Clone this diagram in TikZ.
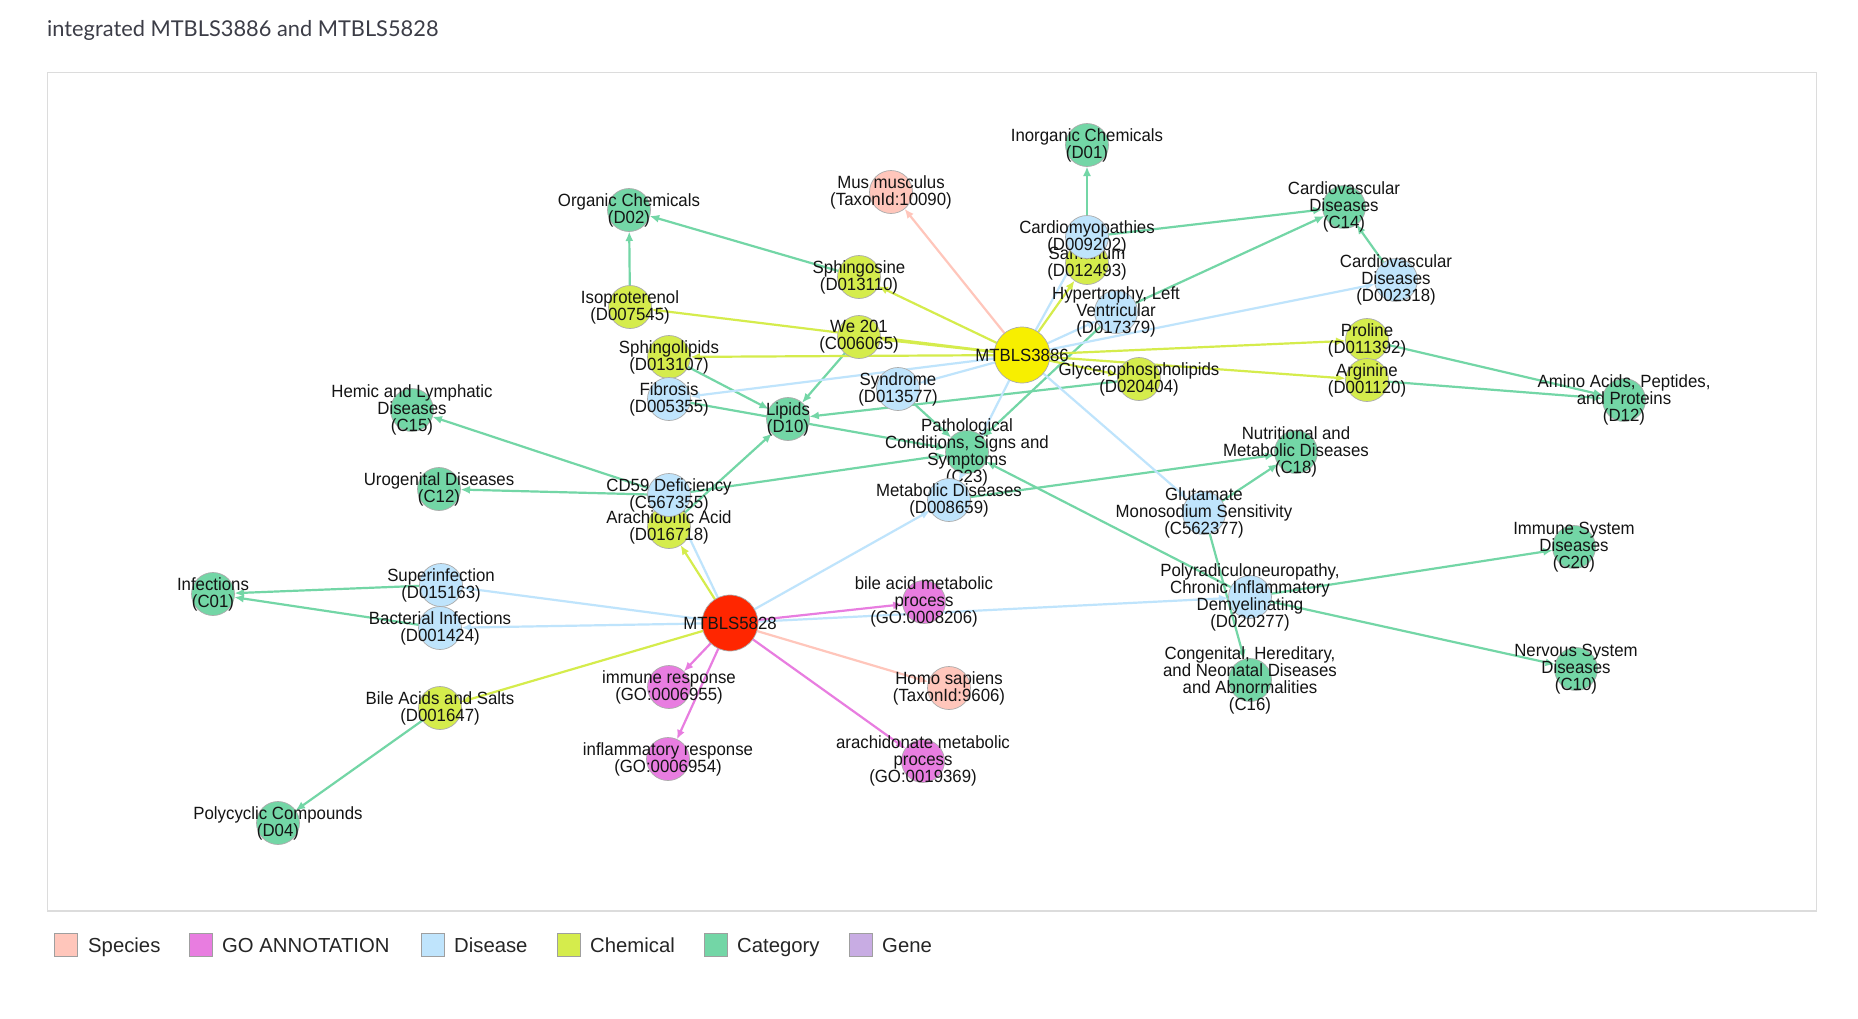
\documentclass[tikz,border=0pt]{standalone}
\usepackage{fontspec}
\setmainfont{Liberation Sans}
\newfontfamily\titlefont{Lato}
\newfontfamily\lblfont[FakeStretch=0.95]{Liberation Sans}
\usetikzlibrary{arrows.meta}
\definecolor{catc}{HTML}{73D6A6}
\definecolor{disc}{HTML}{BFE4FC}
\definecolor{chemc}{HTML}{D5EC4C}
\definecolor{spcc}{HTML}{FFC6BB}
\definecolor{goc}{HTML}{E87DE0}
\definecolor{genec}{HTML}{C8ACE3}
\definecolor{studya}{HTML}{F7EF00}
\definecolor{studyb}{HTML}{FF2600}
\definecolor{nborder}{HTML}{ABABAB}
\definecolor{framec}{HTML}{DCDCDC}
\definecolor{titlec}{HTML}{3C3D47}
\pgfdeclarelayer{bglayer}
\pgfdeclarelayer{edgelayer}
\pgfsetlayers{bglayer,edgelayer,main}
\newcommand\gnode[4]{%
  \node[#3] (#1) at (#2) {};
  \node[lbl] (#1-l) at (#1.center) {#4};}
\begin{document}
\begin{tikzpicture}[x=1pt,y=-1pt,
  gn/.style={circle,draw=nborder,line width=0.7pt,minimum size=43pt,inner sep=0pt,outer sep=0pt},
  catn/.style={gn,fill=catc}, disn/.style={gn,fill=disc}, chemn/.style={gn,fill=chemc},
  spcn/.style={gn,fill=spcc}, gon/.style={gn,fill=goc},
  studyn/.style={gn,minimum size=56pt},
  lbl/.style={font=\lblfont\fontsize{17.7}{17}\selectfont,align=center,inner sep=0pt,text=black!92},
  edgeline/.style={line width=2.2pt,-{Latex[length=9.5pt,width=8pt]}},
  ecat/.style={edgeline,draw=catc}, edis/.style={edgeline,draw=disc},
  echem/.style={edgeline,draw=chemc}, espc/.style={edgeline,draw=spcc},
  ego/.style={edgeline,draw=goc},
  legsq/.style={draw=gray!75,line width=0.8pt,minimum size=23pt,inner sep=0pt},
  legtxt/.style={anchor=base west,font=\fontsize{20.3}{24}\selectfont,inner sep=0pt,text=black!85}
]
\useasboundingbox (0,0) rectangle (1858,1018);
\begin{pgfonlayer}{bglayer}
\fill[white] (0,0) rectangle (1858,1018);
\draw[framec,line width=1.2pt] (47.4,72.3) rectangle (1816.6,911);
\end{pgfonlayer}
\node[anchor=base west,font=\titlefont\fontsize{21.8}{26}\selectfont,text=titlec,inner sep=0pt] (title) at (47,36) {integrated MTBLS3886 and MTBLS5828};

% study nodes
\gnode{m3886}{1022,355}{studyn,fill=studya}{MTBLS3886}
\gnode{m5828}{730,623}{studyn,fill=studyb}{MTBLS5828}
% chemicals
\gnode{sph}{859,277}{chemn}{Sphingosine\\(D013110)}
\gnode{iso}{630,307}{chemn}{Isoproterenol\\(D007545)}
\gnode{we}{859,337}{chemn}{We 201\\(C006065)}
\gnode{spl}{669,357}{chemn}{Sphingolipids\\(D013107)}
\gnode{sm}{1087,263}{chemn}{Samarium\\(D012493)}
\gnode{gly}{1139,379}{chemn}{Glycerophospholipids\\(D020404)}
\gnode{pro}{1367,340}{chemn}{Proline\\(D011392)}
\gnode{arg}{1367,380}{chemn}{Arginine\\(D001120)}
\gnode{ara}{669,527}{chemn}{Arachidonic Acid\\(D016718)}
\gnode{bile}{440,708}{chemn}{Bile Acids and Salts\\(D001647)}
% species
\gnode{mus}{891,192}{spcn}{Mus musculus\\(TaxonId:10090)}
\gnode{homo}{949,688}{spcn}{Homo sapiens\\(TaxonId:9606)}
% diseases
\gnode{fib}{669,399}{disn}{Fibrosis\\(D005355)}
\gnode{syn}{898,389}{disn}{Syndrome\\(D013577)}
\gnode{cm}{1087,237}{disn}{Cardiomyopathies\\(D009202)}
\gnode{hyp}{1116,312}{disn}{Hypertrophy, Left\\Ventricular\\(D017379)}
\gnode{cvd}{1396,280}{disn}{Cardiovascular\\Diseases\\(D002318)}
\gnode{c23}{967,452}{catn}{Pathological\\Conditions, Signs and\\Symptoms\\(C23)}
\gnode{md}{949,500}{disn}{Metabolic Diseases\\(D008659)}
\gnode{cd59}{669,495}{disn}{CD59 Deficiency\\(C567355)}
\gnode{glu}{1204,513}{disn}{Glutamate\\Monosodium Sensitivity\\(C562377)}
\gnode{poly}{1250,597}{disn}{Polyradiculoneuropathy,\\Chronic Inflammatory\\Demyelinating\\(D020277)}
\gnode{sup}{441,585}{disn}{Superinfection\\(D015163)}
\gnode{bac}{440,628}{disn}{Bacterial Infections\\(D001424)}
% GO annotations
\gnode{bap}{924,602}{gon}{bile acid metabolic\\process\\(GO:0008206)}
\gnode{imm}{669,687}{gon}{immune response\\(GO:0006955)}
\gnode{inf}{668,759}{gon}{inflammatory response\\(GO:0006954)}
\gnode{arp}{923,761}{gon}{arachidonate metabolic\\process\\(GO:0019369)}
% categories
\gnode{oc}{629,210}{catn}{Organic Chemicals\\(D02)}
\gnode{ic}{1087,145}{catn}{Inorganic Chemicals\\(D01)}
\gnode{c14}{1344,207}{catn}{Cardiovascular\\Diseases\\(C14)}
\gnode{aa}{1624,400}{catn}{Amino Acids, Peptides,\\and Proteins\\(D12)}
\gnode{lip}{788,419}{catn}{Lipids\\(D10)}
\gnode{c15}{412,410}{catn}{Hemic and Lymphatic\\Diseases\\(C15)}
\gnode{c12}{439,489}{catn}{Urogenital Diseases\\(C12)}
\gnode{c01}{213,594}{catn}{Infections\\(C01)}
\gnode{c18}{1296,452}{catn}{Nutritional and\\Metabolic Diseases\\(C18)}
\gnode{c20}{1574,547}{catn}{Immune System\\Diseases\\(C20)}
\gnode{c16}{1250,680}{catn}{Congenital, Hereditary,\\and Neonatal Diseases\\and Abnormalities\\(C16)}
\gnode{c10}{1576,669}{catn}{Nervous System\\Diseases\\(C10)}
\gnode{d04}{278,823}{catn}{Polycyclic Compounds\\(D04)}

\begin{pgfonlayer}{edgelayer}
% category links
\draw[ecat] (iso) -- (oc);
\draw[ecat] (sph) -- (oc);
\draw[ecat] (sm) -- (ic);
\draw[ecat] (cm) -- (c14);
\draw[ecat] (hyp) -- (c14);
\draw[ecat] (cvd) -- (c14);
\draw[ecat] (pro) -- (aa);
\draw[ecat] (arg) -- (aa);
\draw[ecat] (we) -- (lip);
\draw[ecat] (spl) -- (lip);
\draw[ecat] (fib) -- (c23);
\draw[ecat] (gly) -- (lip);
\draw[ecat] (syn) -- (c23);
\draw[ecat] (hyp) -- (c23);
\draw[ecat] (ara) -- (lip);
\draw[ecat] (cd59) -- (c15);
\draw[ecat] (cd59) -- (c12);
\draw[ecat] (cd59) -- (c23);
\draw[ecat] (md) -- (c18);
\draw[ecat] (glu) -- (c18);
\draw[ecat] (poly) -- (c23);
\draw[ecat] (glu) -- (c16);
\draw[ecat] (poly) -- (c20);
\draw[ecat] (poly) -- (c10);
\draw[ecat] (sup) -- (c01);
\draw[ecat] (bac) -- (c01);
\draw[ecat] (bile) -- (d04);
% disease links
\draw[edis] (m3886) -- (fib);
\draw[edis] (m3886) -- (syn);
\draw[edis] (m3886) -- (cm);
\draw[edis] (m3886) -- (hyp);
\draw[edis] (m3886) -- (cvd);
\draw[edis] (m3886) -- (md);
\draw[edis] (m3886) -- (glu);
\draw[edis] (m5828) -- (cd59);
\draw[edis] (m5828) -- (md);
\draw[edis] (m5828) -- (sup);
\draw[edis] (m5828) -- (bac);
\draw[edis] (m5828) -- (poly);
% chemical links
\draw[echem] (m3886) -- (sph);
\draw[echem] (m3886) -- (iso);
\draw[echem] (m3886) -- (we);
\draw[echem] (m3886) -- (spl);
\draw[echem] (m3886) -- (sm);
\draw[echem] (m3886) -- (pro);
\draw[echem] (m3886) -- (gly);
\draw[echem] (m3886) -- (arg);
\draw[echem] (m5828) -- (ara);
\draw[echem] (m5828) -- (bile);
% species links
\draw[espc] (m3886) -- (mus);
\draw[espc] (m5828) -- (homo);
% GO links
\draw[ego] (m5828) -- (bap);
\draw[ego] (m5828) -- (imm);
\draw[ego] (m5828) -- (inf);
\draw[ego] (m5828) -- (arp);
\end{pgfonlayer}

% legend
\node[legsq,fill=spcc] (lg1) at (65.5,944.5) {};
\node[legtxt] (lg1t) at (88,952) {Species};
\node[legsq,fill=goc] (lg2) at (201,944.5) {};
\node[legtxt] (lg2t) at (222,952) {GO ANNOTATION};
\node[legsq,fill=disc] (lg3) at (432.5,944.5) {};
\node[legtxt] (lg3t) at (454,952) {Disease};
\node[legsq,fill=chemc] (lg4) at (568.5,944.5) {};
\node[legtxt] (lg4t) at (590,952) {Chemical};
\node[legsq,fill=catc] (lg5) at (716,944.5) {};
\node[legtxt] (lg5t) at (737,952) {Category};
\node[legsq,fill=genec] (lg6) at (860.5,944.5) {};
\node[legtxt] (lg6t) at (882,952) {Gene};
\end{tikzpicture}
\end{document}
